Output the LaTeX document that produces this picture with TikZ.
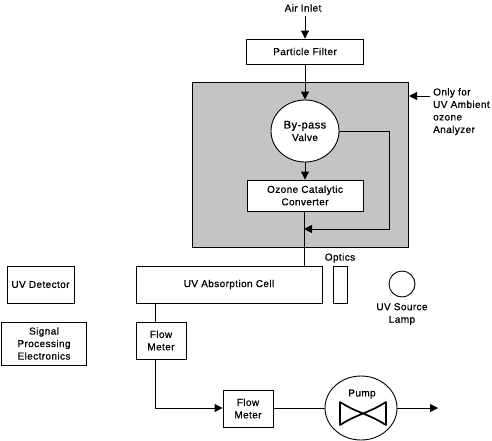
\documentclass[tikz,border=0pt]{standalone}
\usepackage{fontspec}
\setmainfont[LetterSpace=4, FakeBold=0.8]{Liberation Sans}
\usetikzlibrary{arrows.meta,shapes.geometric}
\definecolor{shade}{HTML}{C4C4C4}
\begin{document}
\begin{tikzpicture}[x=1pt,y=-1pt,
  every node/.style={font=\fontsize{10}{12.5}\selectfont, inner sep=0pt, align=center},
  box/.style={draw, line width=0.9pt, fill=white, rectangle},
  wire/.style={line width=0.9pt},
  arr/.style={line width=0.9pt, -{Triangle[length=8pt,width=8pt]}},
  lbl/.style={}]
\useasboundingbox (0,0) rectangle (492,440);
% gray region
\draw[line width=1pt, fill=shade] (192,82) rectangle (408,247);

\node[lbl] (inlet) at (303,8) {Air Inlet};
\node[box, minimum width=117pt, minimum height=25pt] (filter) at (305,51.5) {Particle Filter};
\node[draw, ellipse, line width=0.9pt, fill=white, minimum width=68pt, minimum height=62pt] (valve) at (305,131) {{\fontsize{11}{13}\selectfont By-pass}\\Valve};
\node[box, minimum width=116pt, minimum height=31pt] (conv) at (305,195.5) {Ozone Catalytic\\Converter};

\node[lbl, anchor=north west, align=left] (note) at (433,88) {Only for\\UV Ambient\\ozone\\Analyzer};
\coordinate (notetip) at (409,96);
\coordinate (notestart) at (430,96);
\draw[arr] (notestart) -- (notetip);

\node[box, minimum width=186pt, minimum height=37pt] (cell) at (229,284.5) {UV Absorption Cell};
\node[box, minimum width=14pt, minimum height=37pt] (optics) at (340,284.5) {};
\node[lbl] (opticslbl) at (340,258) {Optics};
\node[draw, circle, line width=0.9pt, minimum size=26pt] (lamp) at (402,284) {};
\node[lbl] (lamplbl) at (402,314) {UV Source\\Lamp};

\node[box, minimum width=67pt, minimum height=37pt] (det) at (40.5,284.5) {UV Detector};
\node[box, minimum width=85pt, minimum height=43pt] (sig) at (44,343.5) {Signal\\Processing\\Electronics};

\node[box, minimum width=50pt, minimum height=37pt] (fm1) at (161,340.5) {Flow\\Meter};
\node[box, minimum width=50pt, minimum height=37pt] (fm2) at (248,408.5) {Flow\\Meter};
\node[draw, ellipse, line width=0.9pt, fill=white, minimum width=72pt, minimum height=64pt] (pump) at (361,408) {};
\node[lbl] (pumplbl) at (362,394) {Pump};
\coordinate (outlet) at (438,408);

% connectors
\draw[arr] (filter.north |- inlet.south) ++(0,4) -- (filter.north);
\draw[arr] (filter.south) -- (valve.north);
\draw[arr] (valve.south) -- (conv.north);
\coordinate (join) at (304,229);
\coordinate (bpcorner) at (389,229);
\draw[wire] (conv.south -| join) -- (join |- cell.north);
\draw[arr] (valve.east) -| (bpcorner) -- (join);

\coordinate (c1) at (155,303);
\draw[wire] (c1) -- (c1 |- fm1.north);
\coordinate (bend) at (155,408);
\draw[arr] (c1 |- fm1.south) -- (bend) -- (fm2.west |- bend);
\draw[wire] (fm2.east |- bend) -- (pump.west);
\draw[arr] (pump.east) -- (outlet);

% bowtie
\draw[line width=1.7pt, line join=round]
  (340,402) -- (340,425) .. controls (350,419) .. (363,413.5) .. controls (350,408) .. cycle;
\draw[line width=1.7pt, line join=round]
  (386,402) -- (386,425) .. controls (376,419) .. (363,413.5) .. controls (376,408) .. cycle;
\end{tikzpicture}
\end{document}
